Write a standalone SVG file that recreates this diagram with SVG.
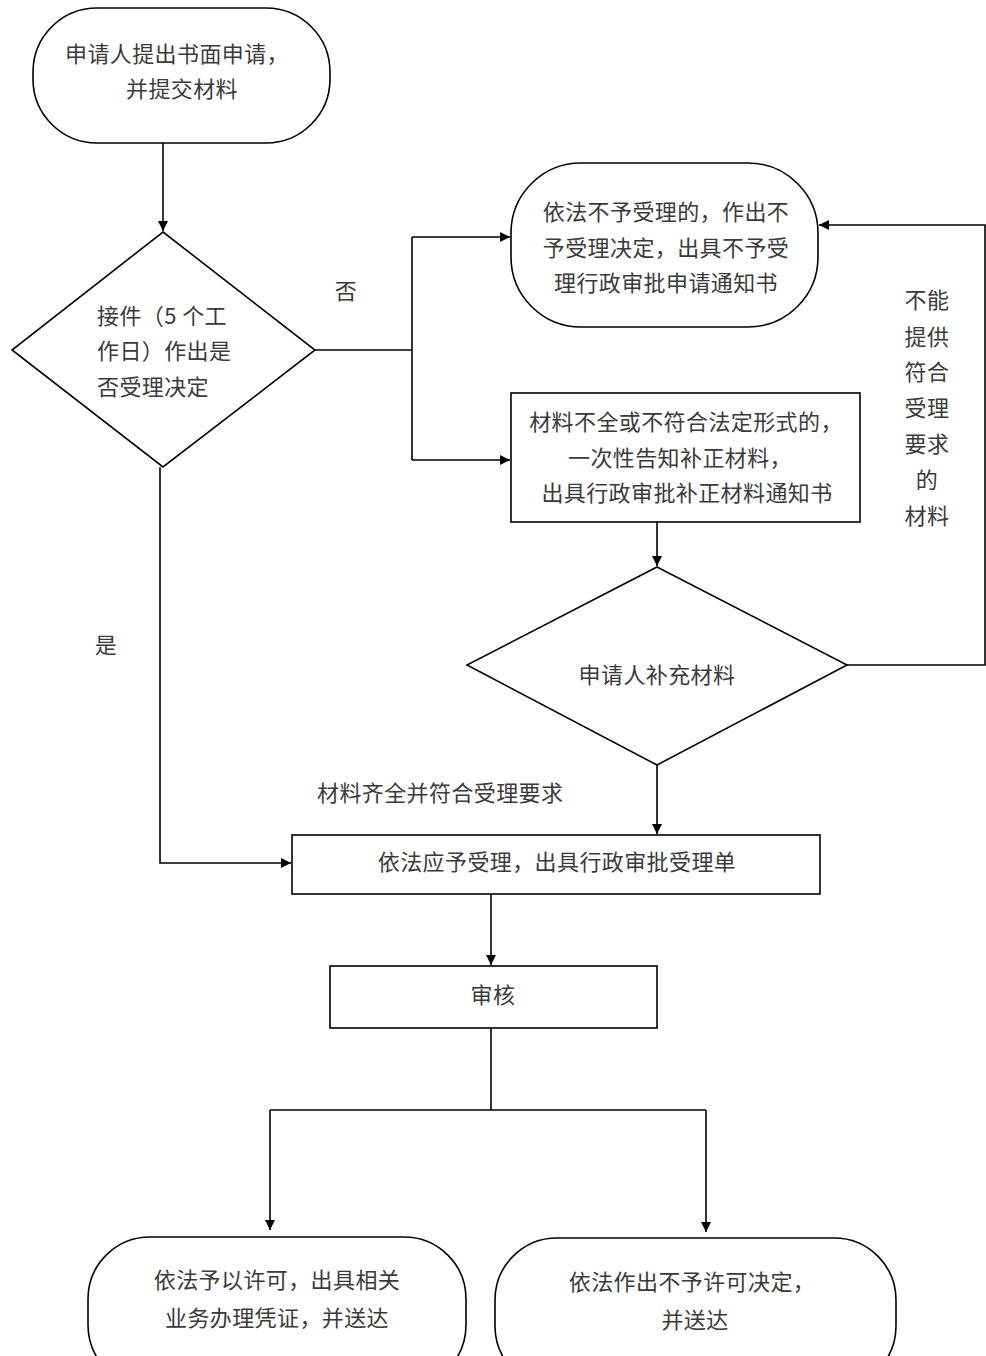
<svg xmlns="http://www.w3.org/2000/svg" width="986" height="1356" viewBox="0 0 986 1356">
<defs>
<marker id="ah" markerWidth="10" markerHeight="10" refX="10" refY="5" orient="auto" markerUnits="userSpaceOnUse">
<path d="M0,0 L10,5 L0,10 z" fill="#000"/>
</marker>
<style>
.shape{fill:#fff;stroke:#000;stroke-width:1.6}
.conn{fill:none;stroke:#000;stroke-width:1.6}
.t{font-family:"Noto Sans CJK SC","Noto Sans CJK JP",sans-serif;font-size:22px;letter-spacing:0.4px;fill:#3a3a3a}
.c{text-anchor:middle}
</style>
</defs>
<rect width="986" height="1356" fill="#fff"/>
<g id="connectors">
<path class="conn" d="M163,143 V231" marker-end="url(#ah)"/>
<path class="conn" d="M315,350 H412"/>
<path class="conn" d="M412,237 V460"/>
<path class="conn" d="M412,237 H510" marker-end="url(#ah)"/>
<path class="conn" d="M412,460 H510" marker-end="url(#ah)"/>
<path class="conn" d="M657,522 V566" marker-end="url(#ah)"/>
<path class="conn" d="M847,665 H985 V225 H819" marker-end="url(#ah)"/>
<path class="conn" d="M657,765 V834" marker-end="url(#ah)"/>
<path class="conn" d="M160,467 V863 H291" marker-end="url(#ah)"/>
<path class="conn" d="M491,894 V965" marker-end="url(#ah)"/>
<path class="conn" d="M491,1028 V1110"/>
<path class="conn" d="M270,1110 H706"/>
<path class="conn" d="M270,1110 V1230" marker-end="url(#ah)"/>
<path class="conn" d="M706,1110 V1232" marker-end="url(#ah)"/>
</g>
<g id="labels">
<text class="t c" x="346" y="299">否</text>
<text class="t c" x="106" y="653">是</text>
<text class="t" x="317" y="801">材料齐全并符合受理要求</text>
<text class="t c" x="927" y="308">不能</text>
<text class="t c" x="927" y="345">提供</text>
<text class="t c" x="927" y="380">符合</text>
<text class="t c" x="927" y="416">受理</text>
<text class="t c" x="927" y="452">要求</text>
<text class="t c" x="927" y="488">的</text>
<text class="t c" x="927" y="524">材料</text>
</g>
<g id="n_start">
<rect class="shape" x="33" y="8" width="297" height="135" rx="64" ry="64"/>
<text class="t c" x="177" y="62">申请人提出书面申请，</text>
<text class="t c" x="182" y="97">并提交材料</text>
</g>
<g id="n_decide1">
<polygon class="shape" points="163,232 315,350 163,467 12,350"/>
<text class="t" x="97" y="324">接件（5 个工</text>
<text class="t" x="97" y="359">作日）作出是</text>
<text class="t" x="97" y="395">否受理决定</text>
</g>
<g id="n_reject">
<rect class="shape" x="511" y="163" width="307" height="164" rx="70" ry="70"/>
<text class="t c" x="666" y="220">依法不予受理的，作出不</text>
<text class="t c" x="666" y="256">予受理决定，出具不予受</text>
<text class="t c" x="666" y="291">理行政审批申请通知书</text>
</g>
<g id="n_supplement_notice">
<rect class="shape" x="511" y="393" width="349" height="129"/>
<text class="t c" x="686" y="430">材料不全或不符合法定形式的，</text>
<text class="t c" x="680" y="466">一次性告知补正材料，</text>
<text class="t c" x="687" y="501">出具行政审批补正材料通知书</text>
</g>
<g id="n_decide2">
<polygon class="shape" points="657,567 847,665 657,765 467,665"/>
<text class="t c" x="657" y="683">申请人补充材料</text>
</g>
<g id="n_accept">
<rect class="shape" x="292" y="835" width="528" height="59"/>
<text class="t c" x="557" y="870">依法应予受理，出具行政审批受理单</text>
</g>
<g id="n_review">
<rect class="shape" x="330" y="966" width="327" height="62"/>
<text class="t c" x="493" y="1003">审核</text>
</g>
<g id="n_permit">
<rect class="shape" x="88" y="1237" width="378" height="150" rx="62" ry="62"/>
<text class="t c" x="277" y="1288">依法予以许可，出具相关</text>
<text class="t c" x="277" y="1326">业务办理凭证，并送达</text>
</g>
<g id="n_deny">
<rect class="shape" x="495" y="1238" width="401" height="150" rx="62" ry="62"/>
<text class="t c" x="692" y="1290">依法作出不予许可决定，</text>
<text class="t c" x="695" y="1328">并送达</text>
</g>
</svg>
